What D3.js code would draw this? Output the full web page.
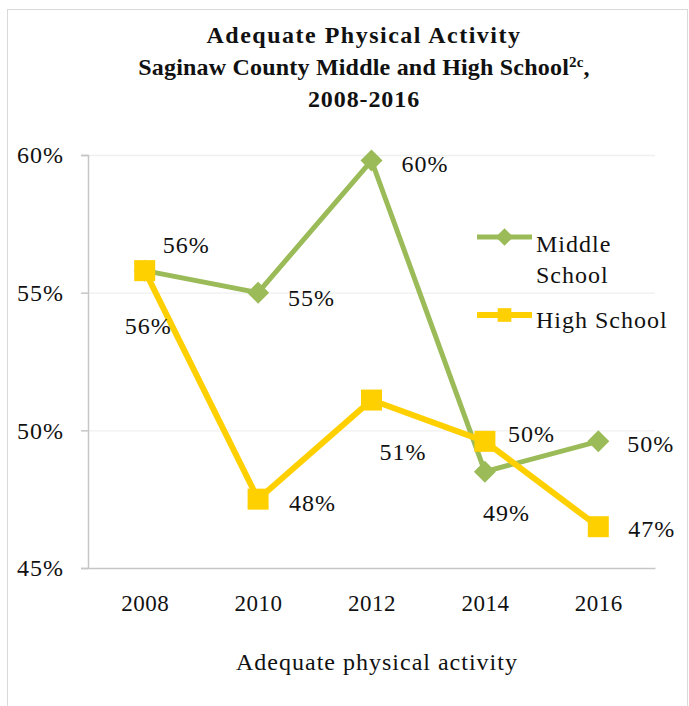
<!DOCTYPE html>
<html>
<head>
<meta charset="utf-8">
<script src="https://cdn.jsdelivr.net/npm/d3@7"></script>
<style>
  body { margin: 0; background: #fff; }
  text { font-family: "Liberation Serif", "Times New Roman", serif; fill: #111; }
</style>
</head>
<body>
<svg id="chart" width="689" height="706"></svg>
<script>
// chart data
const years = ["2008", "2010", "2012", "2014", "2016"];
const middleSchool = [55.8, 55.0, 59.8, 48.5, 49.6];
const highSchool = [55.8, 47.5, 51.1, 49.6, 46.5];
const yTicks = [45, 50, 55, 60];
const seriesNames = ["Middle School", "High School"];

// label offsets from each point (dx, dy to baseline)
const middleLabelPos = [[18, -18], [30, 13], [30, 11], [-2, 49], [29, 11]];
const highLabelPos = [[-20, 63], [31, 12], [8, 60], [23, 1], [30, 10]];

const green = "#9bbb59", yellow = "#ffd000";

let svg = d3.select("#chart");

// outer frame
svg.append("rect")
    .attr("x", 7.5).attr("y", 9.5)
    .attr("width", 680).attr("height", 710)
    .attr("fill", "none")
    .attr("stroke", "#d9d9d9");

// title
let title = svg.append("text")
    .attr("text-anchor", "middle")
    .attr("font-weight", "bold")
    .attr("font-size", 24);
title.append("tspan").attr("x", 364).attr("y", 43)
    .attr("letter-spacing", 1.5).text("Adequate Physical Activity");
let t2 = title.append("tspan").attr("x", 364).attr("y", 75).attr("letter-spacing", 0.2);
t2.append("tspan").text("Saginaw County Middle and High School");
t2.append("tspan").attr("font-size", 15).attr("dy", -8).text("2c");
t2.append("tspan").attr("dy", 8).text(",");
title.append("tspan").attr("x", 364).attr("y", 107)
    .attr("letter-spacing", 0.9).text("2008-2016");

let x = d3.scalePoint().domain(years).range([88, 655]).padding(0.5);
let y = d3.scaleLinear().domain([45, 60]).range([568, 155]);

// gridlines
svg.append("g")
    .attr("transform", "translate(88,0)")
    .call(d3.axisLeft(y).tickValues(yTicks.slice(1)).tickSize(-567).tickFormat(""))
    .call(g => g.select(".domain").remove())
    .call(g => g.selectAll("line").attr("stroke", "#efefef").attr("stroke-width", 1.3));

// y axis
svg.append("g")
    .attr("transform", "translate(88,0)")
    .call(d3.axisLeft(y).tickValues(yTicks).tickSize(7).tickPadding(17).tickFormat(d => d + "%"))
    .call(g => g.select(".domain").attr("stroke", "#c6c6c6").attr("stroke-width", 1.5))
    .call(g => g.selectAll("line").attr("stroke", "#c6c6c6").attr("stroke-width", 1.5))
    .call(g => g.selectAll("text").attr("font-size", 24).attr("letter-spacing", 1).attr("fill", "#111"));

// x axis
svg.append("g")
    .attr("transform", "translate(0,568)")
    .call(d3.axisBottom(x).tickSize(0).tickPadding(27))
    .call(g => g.select(".domain").attr("stroke", "#c6c6c6").attr("stroke-width", 1.5))
    .call(g => g.selectAll("text").attr("font-size", 23).attr("letter-spacing", 0.5).attr("fill", "#111"));

svg.append("text")
    .attr("x", 377).attr("y", 670)
    .attr("text-anchor", "middle")
    .attr("font-size", 24)
    .attr("letter-spacing", 1)
    .text("Adequate physical activity");

let line = d3.line().x((d, i) => x(years[i])).y(d => y(d));

const diamond = "M0,-11L11,0L0,11L-11,0Z";
const square = "M-10.5,-10.5H10.5V10.5H-10.5Z";

function drawSeries(values, color, width, shape, labelPos) {
    svg.append("path")
        .datum(values)
        .attr("d", line)
        .attr("fill", "none")
        .attr("stroke", color)
        .attr("stroke-width", width)
        .attr("stroke-linejoin", "round");

    svg.selectAll(null)
        .data(values)
        .join("path")
        .attr("d", shape)
        .attr("transform", (d, i) => `translate(${x(years[i])},${y(d)})`)
        .attr("fill", color);

    svg.selectAll(null)
        .data(values)
        .join("text")
        .attr("x", (d, i) => x(years[i]) + labelPos[i][0])
        .attr("y", (d, i) => y(d) + labelPos[i][1])
        .attr("font-size", 24)
        .attr("letter-spacing", 1)
        .text(d => Math.round(d) + "%");
}

drawSeries(middleSchool, green, 5, diamond, middleLabelPos);
drawSeries(highSchool, yellow, 6, square, highLabelPos);

// legend
let legend = svg.append("g");
[[green, diamond, 237, 0.8], [yellow, square, 315, 0.65]].forEach(([c, s, ly, k]) => {
    legend.append("line")
        .attr("x1", 477).attr("x2", 532).attr("y1", ly).attr("y2", ly)
        .attr("stroke", c).attr("stroke-width", c === green ? 5 : 6);
    legend.append("path").attr("d", s)
        .attr("transform", `translate(504.5,${ly}) scale(${k})`)
        .attr("fill", c);
});
legend.selectAll(null)
    .data([["Middle", 252], ["School", 283], [seriesNames[1], 328]])
    .join("text")
    .attr("x", 536).attr("y", d => d[1])
    .attr("font-size", 24)
    .attr("letter-spacing", 1)
    .text(d => d[0]);
</script>
</body>
</html>
